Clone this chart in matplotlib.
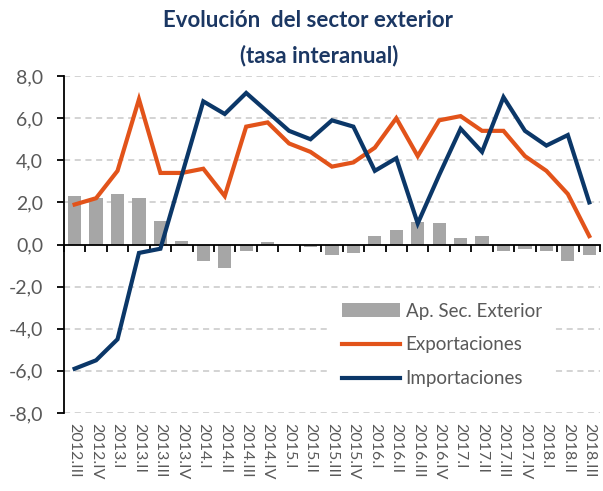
import matplotlib.pyplot as plt
import numpy as np

plt.rcParams['font.family'] = ['Lato', 'DejaVu Sans']

quarters = ['2012.III', '2012.IV', '2013.I', '2013.II', '2013.III', '2013.IV',
            '2014.I', '2014.II', '2014.III', '2014.IV', '2015.I', '2015.II',
            '2015.III', '2015.IV', '2016.I', '2016.II', '2016.III', '2016.IV',
            '2017.I', '2017.II', '2017.III', '2017.IV', '2018.I', '2018.II',
            '2018.III']

ap_sec_exterior = [2.3, 2.2, 2.4, 2.2, 1.1, 0.15, -0.8, -1.1, -0.3, 0.13, 0.0, -0.1,
                   -0.5, -0.4, 0.4, 0.7, 1.05, 1.0, 0.3, 0.4, -0.3, -0.2, -0.3, -0.8,
                   -0.5]
exportaciones = [1.9, 2.2, 3.5, 6.9, 3.4, 3.4, 3.6, 2.3, 5.6, 5.8, 4.8, 4.4,
                 3.7, 3.9, 4.6, 6.0, 4.2, 5.9, 6.1, 5.4, 5.4, 4.2, 3.5, 2.4,
                 0.4]
importaciones = [-5.9, -5.5, -4.5, -0.4, -0.2, 3.3, 6.8, 6.2, 7.2, 6.3, 5.4, 5.0,
                 5.9, 5.6, 3.5, 4.1, 1.0, 3.3, 5.5, 4.4, 7.0, 5.4, 4.7, 5.2,
                 2.0]

gray = '#A6A6A6'
orange = '#E2531A'
navy = '#0B3768'
text_gray = '#595959'

fig = plt.figure(figsize=(6.03, 4.91), dpi=100)
ax = fig.add_axes([0.106, 0.159, 0.889, 0.686])

x = np.arange(len(quarters))
bars = ax.bar(x, ap_sec_exterior, width=0.62, color=gray, label='Ap. Sec. Exterior', zorder=2)
l1, = ax.plot(x, exportaciones, color=orange, lw=3, label='Exportaciones', zorder=3,
              solid_joinstyle='miter')
l2, = ax.plot(x, importaciones, color=navy, lw=3, label='Importaciones', zorder=4,
              solid_joinstyle='miter')

ax.set_xlim(-0.5, len(quarters) - 0.5)
ax.set_ylim(-8, 8)
yt = np.arange(-8, 9, 2)
ax.set_yticks(yt)
ax.set_yticklabels([f'{v:.1f}'.replace('.', ',') for v in yt], color=text_gray, fontsize=14)
for v in yt:
    if v != 0:
        ax.axhline(v, color='#C8C8C8', lw=1.1, ls=(0, (4, 3)), zorder=0)

for s in ['top', 'right']:
    ax.spines[s].set_visible(False)
ax.spines['left'].set_color('black')
ax.spines['left'].set_linewidth(1.3)
ax.spines['bottom'].set_position(('data', 0))
ax.spines['bottom'].set_linewidth(1.3)
ax.tick_params(axis='y', direction='out', length=5, width=1.3, pad=10)
ax.set_xticks(np.arange(len(quarters) + 1) - 0.5)
ax.tick_params(axis='x', direction='out', length=5, width=1.3, labelbottom=False)

sec = ax.secondary_xaxis('bottom')
sec.spines['bottom'].set_visible(False)
sec.set_xticks(x)
sec.set_xticklabels(quarters, rotation=-90, color=text_gray, fontsize=11.5)
sec.tick_params(length=0, pad=7)

leg = ax.legend([bars, l1, l2], ['Ap. Sec. Exterior', 'Exportaciones', 'Importaciones'],
                loc='lower right', bbox_to_anchor=(0.93, 0.015), frameon=True,
                fontsize=13.5, labelspacing=0.9, handlelength=3.1, handletextpad=0.3,
                borderpad=0.6)
leg.get_frame().set_edgecolor('none')
leg.get_frame().set_facecolor('white')
leg.get_frame().set_alpha(1)
for t in leg.get_texts():
    t.set_color(text_gray)

fig.text(0.51, 0.958, 'Evolución  del sector exterior', ha='center', va='center',
         fontsize=16, fontweight='bold', color='#1B3763')
fig.text(0.53, 0.886, '(tasa interanual)', ha='center', va='center',
         fontsize=16, fontweight='bold', color='#1B3763')

fig.savefig('out.png', dpi=100)
